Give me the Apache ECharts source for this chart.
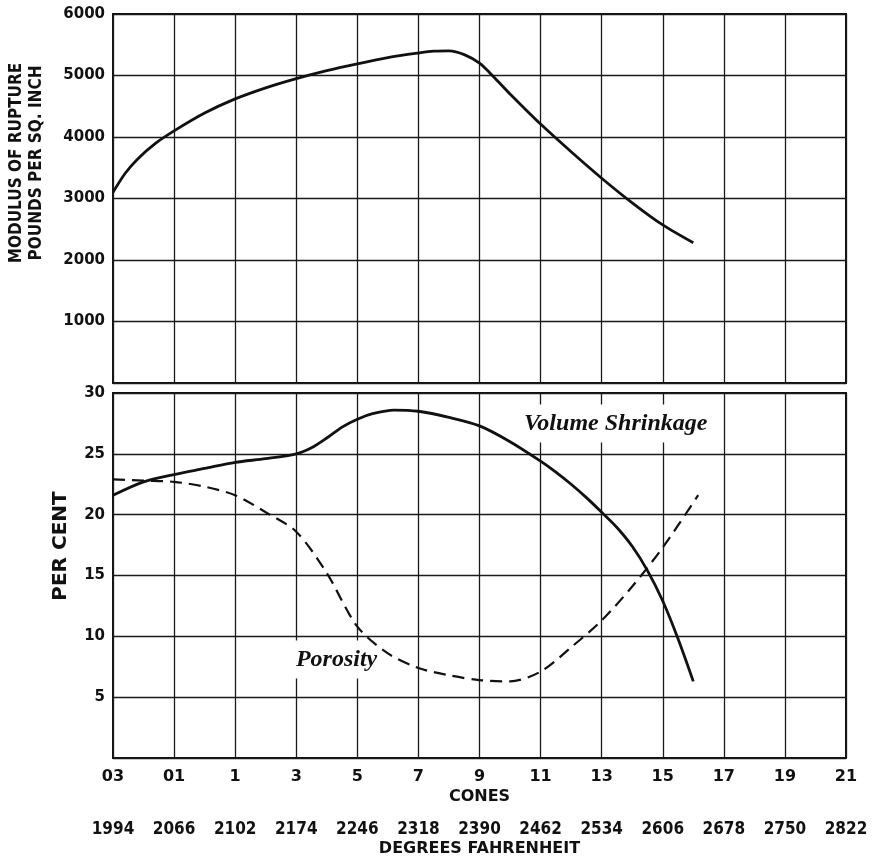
<!DOCTYPE html>
<html>
<head>
<meta charset="utf-8">
<script src="https://cdn.jsdelivr.net/npm/echarts@6/dist/echarts.min.js"></script>
<style>
html,body{margin:0;padding:0;background:#fff;}
#chart{width:873px;height:862px;}
</style>
</head>
<body>
<div id="chart"></div>
<script>
// Axis categories (cone positions 0..12)
const coneLabels = ["03","01","1","3","5","7","9","11","13","15","17","19","21"];
const fahrenheitLabels = ["1994","2066","2102","2174","2246","2318","2390","2462","2534","2606","2678","2750","2822"];

// Modulus of rupture (psi) vs cone position index
const modulusX = [0, 0.2, 0.4, 0.7, 1, 1.5, 2, 2.5, 3, 3.5, 4, 4.5, 5, 5.25, 5.5, 5.75, 6, 6.25, 6.5, 7, 7.5, 8, 8.5, 9, 9.5];
const modulusY = [3100, 3410, 3640, 3900, 4100, 4390, 4620, 4800, 4950, 5080, 5190, 5290, 5365, 5395, 5400, 5340, 5200, 4960, 4700, 4210, 3760, 3330, 2930, 2570, 2280];

// Volume shrinkage (%)
const shrinkX = [0, 0.5, 1, 1.5, 2, 2.5, 3, 3.25, 3.5, 3.75, 4, 4.25, 4.6, 5, 5.5, 6, 6.5, 7, 7.25, 7.5, 7.75, 8, 8.25, 8.5, 8.75, 9, 9.25, 9.5];
const shrinkY = [21.6, 22.7, 23.3, 23.8, 24.3, 24.6, 25.0, 25.5, 26.3, 27.2, 27.85, 28.3, 28.6, 28.5, 28.0, 27.3, 26.0, 24.4, 23.5, 22.5, 21.4, 20.2, 18.95, 17.4, 15.4, 12.9, 9.8, 6.3];

// Porosity (%)
const porosityX = [0, 0.5, 1, 1.5, 2, 2.5, 3, 3.5, 4, 4.5, 5, 5.5, 6, 6.5, 7, 7.5, 8, 8.5, 9, 9.58];
const porosityY = [22.9, 22.8, 22.7, 22.3, 21.6, 20.2, 18.6, 15.2, 10.8, 8.6, 7.4, 6.8, 6.4, 6.3, 7.1, 9.1, 11.3, 14.1, 17.3, 21.6];

// Curve annotations [x, y, text]
const annotations = [[8.23, 27.5, "Volume Shrinkage"], [3.66, 8.1, "Porosity"]];

const zip = (xs, ys) => xs.map((x, i) => [x, ys[i]]);

const tickFont = {color:'#111', fontFamily:'DejaVu Sans', fontWeight:'bold', fontSize:15};
const gridLine = {show:true, lineStyle:{color:'#1a1a1a', width:1.3}};

const chart = echarts.init(document.getElementById('chart'), null, {renderer:'canvas'});
chart.setOption({
  animation:false,
  backgroundColor:'#fff',
  grid:[
    {left:113, top:14, width:733, height:369, show:true, borderColor:'#111', borderWidth:2, backgroundColor:'transparent'},
    {left:113, top:393, width:733, height:365, show:true, borderColor:'#111', borderWidth:2, backgroundColor:'transparent'}
  ],
  xAxis:[
    {type:'value', gridIndex:0, min:0, max:12, interval:1, axisLine:{show:false}, axisTick:{show:false}, axisLabel:{show:false}, splitLine:gridLine},
    {type:'value', gridIndex:1, min:0, max:12, interval:1, position:'bottom', axisLine:{show:false}, axisTick:{show:false}, splitLine:gridLine,
      axisLabel:{margin:11, fontSize:16, color:'#111', fontFamily:'DejaVu Sans', fontWeight:'bold', formatter:v => coneLabels[Math.round(v)]},
      name:'CONES', nameLocation:'middle', nameGap:31,
      nameTextStyle:{color:'#111', fontFamily:'DejaVu Sans', fontWeight:'bold', fontSize:16}},
    {type:'value', gridIndex:1, min:0, max:12, interval:1, position:'bottom', offset:53, axisLine:{show:false}, axisTick:{show:false}, splitLine:{show:false},
      axisLabel:{margin:10, color:'#111', fontFamily:'DejaVu Sans Condensed', fontWeight:'bold', fontSize:17, formatter:v => fahrenheitLabels[Math.round(v)]},
      name:'DEGREES FAHRENHEIT', nameLocation:'middle', nameGap:30,
      nameTextStyle:{color:'#111', fontFamily:'DejaVu Sans', fontWeight:'bold', fontSize:16}}
  ],
  yAxis:[
    {type:'value', gridIndex:0, min:0, max:6000, interval:1000, axisLine:{show:false}, axisTick:{show:false}, splitLine:gridLine,
      axisLabel:Object.assign({margin:8, formatter:v => v === 0 ? '' : String(v)}, tickFont)},
    {type:'value', gridIndex:1, min:0, max:30, interval:5, axisLine:{show:false}, axisTick:{show:false}, splitLine:gridLine,
      axisLabel:Object.assign({margin:8, formatter:v => v === 0 ? '' : String(v)}, tickFont)}
  ],
  series:[
    {type:'line', name:'Modulus of Rupture', xAxisIndex:0, yAxisIndex:0, z:3, data:zip(modulusX, modulusY), smooth:0.3, symbol:'none', lineStyle:{color:'#111', width:2.8}},
    {type:'line', name:'Volume Shrinkage', xAxisIndex:1, yAxisIndex:1, z:3, data:zip(shrinkX, shrinkY), smooth:0.3, symbol:'none', lineStyle:{color:'#111', width:2.8}},
    {type:'line', name:'Porosity', xAxisIndex:1, yAxisIndex:1, z:3, data:zip(porosityX, porosityY), smooth:0.3, symbol:'none', lineStyle:{color:'#111', width:2.2, type:[12,7]}}
  ]
});

// Axis titles and curve labels (labels positioned through the chart's own scales)
const labelPts = annotations.map(a => chart.convertToPixel({xAxisIndex:1, yAxisIndex:1}, [a[0], a[1]]));
chart.setOption({
  graphic:[
    {type:'text', id:'ytitle1', x:27, y:163, rotation:Math.PI/2, z:1,
      style:{text:'MODULUS OF RUPTURE\nPOUNDS PER SQ. INCH', fill:'#111', font:'bold 17px "DejaVu Sans Condensed"', textAlign:'center', textVerticalAlign:'middle', lineHeight:20}},
    {type:'text', id:'ytitle2', x:61, y:546, rotation:Math.PI/2, z:1,
      style:{text:'PER CENT', fill:'#111', font:'bold 20px "DejaVu Sans"', textAlign:'center', textVerticalAlign:'middle'}}
  ].concat(annotations.map((a, i) => ({
    type:'text', id:'ann' + i, x:labelPts[i][0], y:labelPts[i][1], z:1,
    style:{text:a[2], fill:'#111', font:'italic bold 24px "Liberation Serif"', textAlign:'center', textVerticalAlign:'middle', backgroundColor:'#fff', padding:[7,5]}
  })))
});
</script>
</body>
</html>
